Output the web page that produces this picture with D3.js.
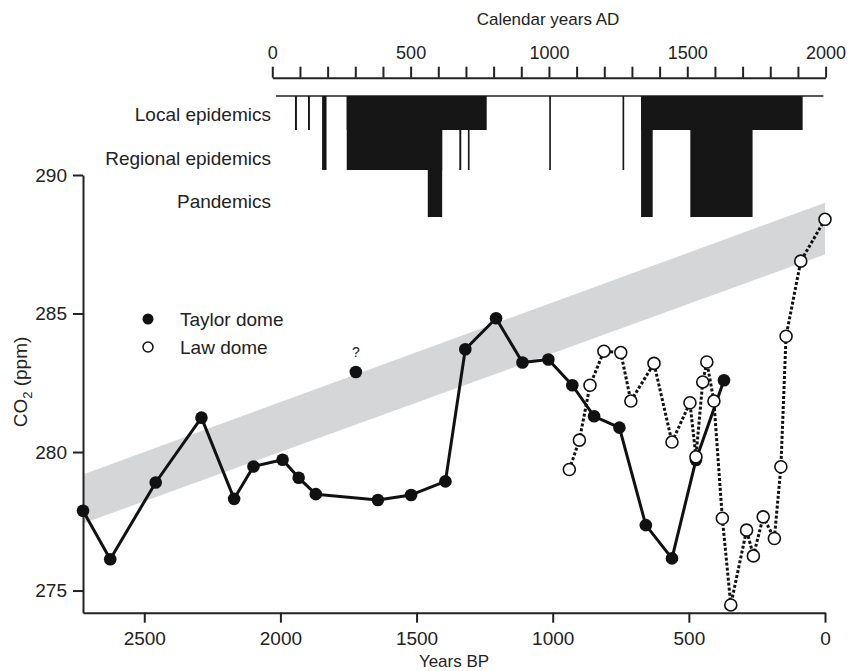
<!DOCTYPE html>
<html>
<head>
<meta charset="utf-8">
<title>CO2 and epidemics</title>
<script src="https://d3js.org/d3.v7.min.js"></script>
<style>
    body { margin: 0; background: #fff; }
    svg { font-family: "Liberation Sans", Arial, sans-serif; }
    .axis text { font-size: 19px; fill: #222; }
    .axis.top text { font-size: 18px; }
    .axis path, .axis line { stroke: #222; stroke-width: 2; }
    .label { font-size: 19px; fill: #222; }
    .title { font-size: 17px; fill: #222; }
</style>
</head>
<body>
<svg width="856" height="671"></svg>
<script>
// Taylor dome (filled)
var taylorBP  = [2725, 2625, 2458, 2290, 2170, 2099, 1992, 1933, 1870, 1642, 1520, 1394, 1321, 1208, 1111, 1016, 928, 848, 755, 658, 562, 474, 371];
var taylorCO2 = [277.88, 276.13, 278.9, 281.24, 278.31, 279.48, 279.72, 279.07, 278.48, 278.27, 278.45, 278.94, 283.71, 284.83, 283.23, 283.34, 282.41, 281.29, 280.88, 277.36, 276.16, 279.71, 282.59];
// questionable Taylor dome point
var outlierBP  = [1723];
var outlierCO2 = [282.89];
// Law dome (open)
var lawBP  = [939, 902, 863, 812, 750, 713, 628, 562, 496, 474, 449, 434, 408, 377, 346, 288, 263, 227, 186, 162, 143, 89, 0];
var lawCO2 = [279.37, 280.43, 282.41, 283.64, 283.59, 281.84, 283.2, 280.36, 281.78, 279.83, 282.53, 283.25, 281.84, 277.61, 274.48, 277.18, 276.25, 277.66, 276.88, 279.47, 284.18, 286.89, 288.4];
// grey band
var bandBP   = [2725, 0];
var bandLow  = [277.42, 287.13];
var bandHigh = [279.19, 289.0];
// epidemics, calendar years AD; level 1 local, 2 regional, 3 pandemic
var epiStart = [82, 129, 180, 269, 269, 562, 676, 707, 1001, 1266, 1333, 1333, 1511];
var epiEnd   = [89, 136, 196, 775, 614, 614, 683, 713, 1007, 1272, 1917, 1375, 1736];
var epiLevel = [1, 1, 2, 1, 2, 3, 2, 2, 2, 2, 1, 3, 3];
var epiLabels = ["Local epidemics", "Regional epidemics", "Pandemics"];
var bpTicks = [2500, 2000, 1500, 1000, 500, 0];
var adTicks = d3.range(0, 2001, 100);
var co2Ticks = [275, 280, 285, 290];

var svg = d3.select("svg");

var x = d3.scaleLinear().domain([2725, 0]).range([83, 825]);
var y = d3.scaleLinear().domain([274.2, 290]).range([612.7, 175]);
var ad = d3.scaleLinear().domain([0, 2000]).range([272.3, 825.6]);
var lev = d3.scaleOrdinal().domain([0, 1, 2, 3]).range([96, 130, 170, 217]);

// band
var band = bandBP.map(function(d, i) { return {bp: d, lo: bandLow[i], hi: bandHigh[i]}; });
svg.append("path")
   .datum(band)
   .attr("fill", "#d5d6d8")
   .attr("d", d3.area()
       .x(function(d) { return x(d.bp); })
       .y0(function(d) { return y(d.lo); })
       .y1(function(d) { return y(d.hi); }));

// axes
svg.append("g")
   .attr("class", "axis")
   .attr("transform", "translate(0,612.7)")
   .call(d3.axisBottom(x).tickValues(bpTicks).tickSize(10).tickSizeOuter(0).tickPadding(9)
       .tickFormat(d3.format("d")));

svg.append("g")
   .attr("class", "axis")
   .attr("transform", "translate(83,0)")
   .call(d3.axisLeft(y).tickValues(co2Ticks).tickSize(10).tickSizeOuter(0).tickPadding(6));

svg.append("g")
   .attr("class", "axis top")
   .attr("transform", "translate(0,77.7)")
   .call(d3.axisTop(ad).tickValues(adTicks).tickSize(11).tickSizeOuter(0).tickPadding(8)
       .tickFormat(function(d) { return d % 500 === 0 ? d : ""; }));

svg.append("text").attr("class", "title")
   .attr("x", 548).attr("y", 25).attr("text-anchor", "middle")
   .text("Calendar years AD");

svg.append("text").attr("class", "title")
   .attr("x", 454).attr("y", 667).attr("text-anchor", "middle")
   .text("Years BP");

var yl = svg.append("text").attr("class", "label")
   .attr("transform", "translate(27,382) rotate(-90)")
   .attr("text-anchor", "middle");
yl.append("tspan").text("CO");
yl.append("tspan").attr("font-size", "13px").attr("dy", 5).text("2");
yl.append("tspan").attr("dy", -5).text(" (ppm)");

// epidemics
svg.append("line")
   .attr("x1", ad(13)).attr("x2", ad(1992))
   .attr("y1", lev(0)).attr("y2", lev(0))
   .attr("stroke", "#222").attr("stroke-width", 1.5);

svg.selectAll(".epi")
   .data(epiStart.map(function(d, i) { return {s: d, e: epiEnd[i], l: epiLevel[i]}; }))
   .enter().append("rect")
   .attr("class", "epi")
   .attr("x", function(d) { return ad(d.s); })
   .attr("width", function(d) { return ad(d.e) - ad(d.s); })
   .attr("y", lev(0))
   .attr("height", function(d) { return lev(d.l) - lev(0); })
   .attr("fill", "#161616");

svg.selectAll(".epilabel")
   .data(epiLabels)
   .enter().append("text")
   .attr("class", "label")
   .attr("x", 271)
   .attr("y", function(d, i) { return [114, 158, 201][i]; })
   .attr("dy", "0.35em")
   .attr("text-anchor", "end")
   .text(function(d) { return d; });

// Taylor dome
var taylor = taylorBP.map(function(d, i) { return [d, taylorCO2[i]]; });
var line = d3.line().x(function(d) { return x(d[0]); }).y(function(d) { return y(d[1]); });

svg.append("path").datum(taylor)
   .attr("fill", "none").attr("stroke", "#111").attr("stroke-width", 3)
   .attr("stroke-linejoin", "round")
   .attr("d", line);

svg.selectAll(".taylor")
   .data(taylor.concat(outlierBP.map(function(d, i) { return [d, outlierCO2[i]]; })))
   .enter().append("circle")
   .attr("cx", function(d) { return x(d[0]); })
   .attr("cy", function(d) { return y(d[1]); })
   .attr("r", 6.3)
   .attr("fill", "#111");

svg.append("text")
   .attr("x", x(outlierBP[0])).attr("y", y(outlierCO2[0]) - 15)
   .attr("text-anchor", "middle")
   .attr("font-size", "14px").attr("fill", "#222")
   .text("?");

// Law dome
var law = lawBP.map(function(d, i) { return [d, lawCO2[i]]; });
svg.append("path").datum(law)
   .attr("fill", "none").attr("stroke", "#111").attr("stroke-width", 3)
   .attr("stroke-dasharray", "3,2")
   .attr("d", line);

svg.selectAll(".law")
   .data(law)
   .enter().append("circle")
   .attr("cx", function(d) { return x(d[0]); })
   .attr("cy", function(d) { return y(d[1]); })
   .attr("r", 6)
   .attr("fill", "#fff").attr("stroke", "#111").attr("stroke-width", 1.6);

// legend
svg.append("circle").attr("cx", 148).attr("cy", 319).attr("r", 5.5).attr("fill", "#111");
svg.append("circle").attr("cx", 148).attr("cy", 347).attr("r", 5).attr("fill", "#fff")
   .attr("stroke", "#111").attr("stroke-width", 1.5);
svg.append("text").attr("class", "label").attr("x", 180).attr("y", 319).attr("dy", "0.35em").text("Taylor dome");
svg.append("text").attr("class", "label").attr("x", 180).attr("y", 347).attr("dy", "0.35em").text("Law dome");
</script>
</body>
</html>
